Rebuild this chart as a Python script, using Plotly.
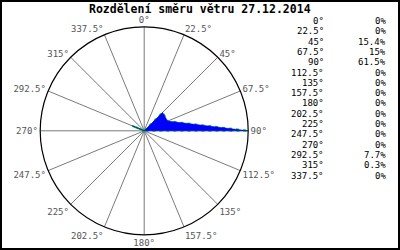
import plotly.graph_objects as go

directions = [0, 22.5, 45, 67.5, 90, 112.5, 135, 157.5, 180, 202.5, 225, 247.5, 270, 292.5, 315, 337.5]
percents = [0, 0, 15.4, 15, 61.5, 0, 0, 0, 0, 0, 0, 0, 0, 7.7, 0.3, 0]
dir_labels = [f"{d:g}°" for d in directions]
pct_labels = [f"{p:g}%" for p in percents]
title_text = "Rozdělení směru větru 27.12.2014"

W, H = 400, 250
MONO = "DejaVu Sans Mono"

fig = go.Figure()

r_closed = percents + [percents[0]]
t_closed = directions + [directions[0]]

fig.add_trace(go.Scatterpolar(
    r=r_closed, theta=t_closed, mode="lines",
    line=dict(color="#00cc00", width=2, dash="3px,4px"),
    hoverinfo="skip", showlegend=False))
fig.add_trace(go.Scatterpolar(
    r=r_closed, theta=t_closed, mode="lines", fill="toself",
    fillcolor="#0000ff", line=dict(color="#0000ff", width=0.5),
    hoverinfo="skip", showlegend=False))

cx, cy, rad = 144.2, 130.8, 104
fig.update_layout(
    width=W, height=H,
    margin=dict(l=0, r=0, t=0, b=0),
    paper_bgcolor="white",
    showlegend=False,
    polar=dict(
        domain=dict(x=[(cx - rad) / W, (cx + rad) / W],
                    y=[(H - cy - rad) / H, (H - cy + rad) / H]),
        bgcolor="white",
        radialaxis=dict(visible=False, range=[0, max(percents)], showgrid=False),
        angularaxis=dict(
            rotation=90, direction="clockwise",
            tickmode="array", tickvals=directions, ticktext=dir_labels,
            ticks="", showline=True, linecolor="black", linewidth=1.2,
            showgrid=True, gridcolor="#7a7a7a", gridwidth=0.8,
            tickfont=dict(family=MONO, size=9, color="#555555"),
        ),
    ),
)

annotations = [dict(
    text=f"<b>{title_text}</b>", x=200 / W, y=1 - 8.5 / H,
    xref="paper", yref="paper", xanchor="center", yanchor="middle",
    showarrow=False, font=dict(family=MONO, size=11.5, color="black"))]

for i, (dl, pl) in enumerate(zip(dir_labels, pct_labels)):
    yy = 1 - (21 + 10.3 * i) / H
    annotations.append(dict(text=dl, x=326 / W, y=yy, xref="paper", yref="paper",
                            xanchor="right", yanchor="middle", showarrow=False,
                            font=dict(family=MONO, size=9, color="black")))
    annotations.append(dict(text=pl, x=388 / W, y=yy, xref="paper", yref="paper",
                            xanchor="right", yanchor="middle", showarrow=False,
                            font=dict(family=MONO, size=9, color="black")))
fig.update_layout(annotations=annotations)

fig.add_shape(type="rect", xref="paper", yref="paper",
              x0=1 / W, x1=1 - 1 / W, y0=1 / H, y1=1 - 1 / H,
              line=dict(color="black", width=2))

fig.write_html("out.html")
